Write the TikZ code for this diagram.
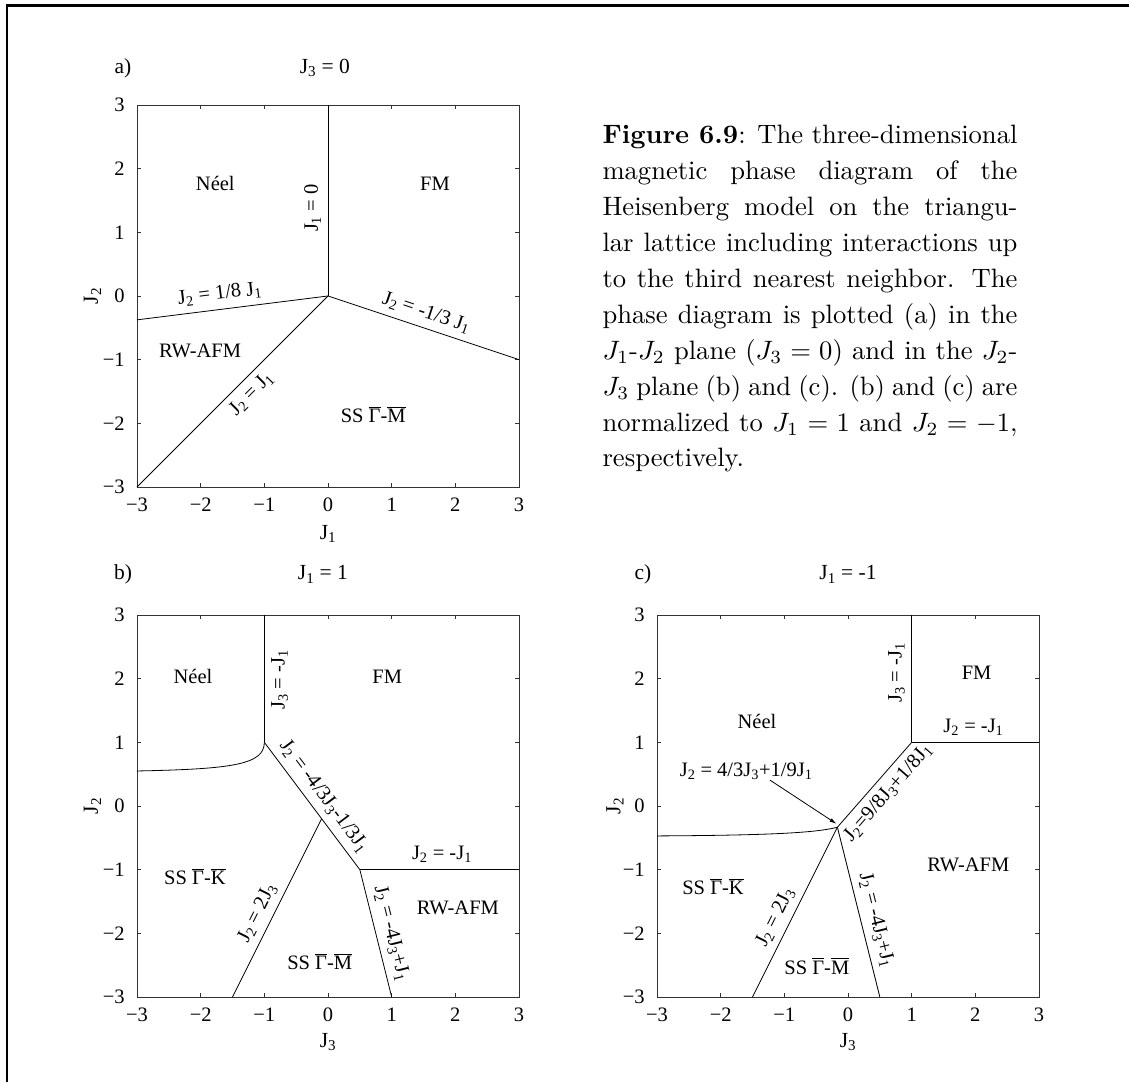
\documentclass[tikz,border=0pt]{standalone}
\usepackage{fontspec}
\newfontfamily\plotfont{Liberation Serif}
\usetikzlibrary{arrows.meta}

\newcommand{\plotsize}{\plotfont\fontsize{20.5}{24}\selectfont}
\newcommand{\Jsub}[1]{J\textsubscript{#1}}
\newcommand{\ovbar}[1]{\leavevmode\vbox{\hrule height 0.8pt\kern 1.8pt\hbox{#1}}}

% Rahmen, Ticks und Zahlen eines Diagramms
\newcommand{\phaseframe}[1]{%
  \draw[frame] (-3,-3) rectangle (3,3);
  \foreach \t/\lab in {-3/−3,-2/−2,-1/−1,0/0,1/1,2/2,3/3} {
    \draw[frame] (\t,-3) -- ++(0,0.07) (\t,3) -- ++(0,-0.07)
                 (-3,\t) -- ++(0.07,0) (3,\t) -- ++(-0.07,0);
    \node[ticklabel, anchor=base] (#1-x\t) at (\t,-3.388) {\lab};
    \node[ticklabel, anchor=east] (#1-y\t) at (-3.19,\t) {\lab};
  }
}

\begin{document}
\begin{tikzpicture}[x=1pt, y=1pt,
        border/.style={line width=2.5pt},
        frame/.style={line width=0.9pt, black!80},
        bound/.style={line width=0.8pt},
        ticklabel/.style={font=\plotsize, inner sep=0pt},
        title/.style={font=\plotfont\fontsize{21.5}{25}\selectfont, inner sep=0pt},
        region/.style={font=\plotsize, inner sep=0pt},
        linelabel/.style={font=\plotsize, inner sep=6.5pt, sloped},
        caption/.style={anchor=north west, inner sep=0pt, scale=2.66, text width=156pt, align=justify, font=\fontsize{10}{13.5}\selectfont}
    ]
    \useasboundingbox (0,0) rectangle (1129,1082);
    \draw[border] (7,0) -- (7,1076.5) -- (1129,1076.5);

    % Bildunterschrift
    \node[caption] (cap) at (602,957.2) {\textbf{Figure 6.9}: The three-dimensional\linebreak
        magnetic phase diagram of the\linebreak
        Heisenberg model on the triangu-\linebreak
        lar lattice including interactions up\linebreak
        to the third nearest neighbor. The\linebreak
        phase diagram is plotted (a) in the\linebreak
        $J_1$-$J_2$ plane ($J_3=0$) and in the $J_2$-\linebreak
        $J_3$ plane (b) and (c). (b) and (c) are\linebreak
        normalized to $J_1=1$ and $J_2=-1$,\linebreak
        respectively.};

    % a) J1-J2-Ebene
    \begin{scope}[shift={(328,786)}, x=63.67pt, y=63.67pt]
        \phaseframe{a}
        \node[title, anchor=base] (a-tag) at (-3.22,3.50) {a)};
        \node[title, anchor=base] (a-title) at (-0.05,3.50) {\Jsub{3} = 0};
        \node[title, anchor=base] (a-xl) at (0,-3.83) {\Jsub{1}};
        \node[title, rotate=90] (a-yl) at (-3.70,0) {\Jsub{2}};

        \coordinate (a-o) at (0,0);
        \coordinate (a-top) at (0,3);
        \coordinate (a-l) at (-3,-0.375);
        \coordinate (a-r) at (3,-1);
        \coordinate (a-bl) at (-3,-3);

        \draw[bound] (a-o) -- (a-top) node[linelabel, pos=0.46, above] {\Jsub{1} = 0};
        \draw[bound] (a-l) -- (a-o) node[linelabel, pos=0.444, above] {\Jsub{2} = 1/8 \Jsub{1}};
        \draw[bound] (a-o) -- (a-r) node[linelabel, pos=0.49, above] {\Jsub{2} = -1/3 \Jsub{1}};
        \draw[bound] (a-bl) -- (a-o) node[linelabel, pos=0.543, below] {\Jsub{2} = \Jsub{1}};

        \node[region] (a-neel) at (-1.77,1.76) {Néel};
        \node[region] (a-fm) at (1.68,1.76) {FM};
        \node[region] (a-rw) at (-2.01,-0.86) {RW-AFM};
        \node[region] (a-ss) at (0.71,-1.87) {SS \ovbar{Γ}-\ovbar{M}};
    \end{scope}

    % b) J1 = 1
    \begin{scope}[shift={(328,276)}, x=63.67pt, y=63.67pt]
        \phaseframe{b}
        \node[title, anchor=base] (b-tag) at (-3.22,3.55) {b)};
        \node[title, anchor=base] (b-title) at (-0.08,3.55) {\Jsub{1} = 1};
        \node[title, anchor=base] (b-xl) at (0,-3.79) {\Jsub{3}};
        \node[title, rotate=90] (b-yl) at (-3.70,0) {\Jsub{2}};

        \coordinate (b-k) at (-1,1);
        \coordinate (b-top) at (-1,3);
        \coordinate (b-m) at (0.5,-1);
        \coordinate (b-r) at (3,-1);
        \coordinate (b-bm) at (1,-3);
        \coordinate (b-j) at (-0.1,-0.2);
        \coordinate (b-bl) at (-1.5,-3);
        \coordinate (b-cl) at (-3,0.55);

        \draw[bound] (b-k) -- (b-top) node[linelabel, pos=0.49, below] {\Jsub{3} = -\Jsub{1}};
        \draw[bound] (b-k) -- (b-m) node[linelabel, pos=0.496, above] {\Jsub{2} = -4/3\Jsub{3}-1/3\Jsub{1}};
        \draw[bound] (b-m) -- (b-r) node[linelabel, pos=0.516, above] {\Jsub{2} = -\Jsub{1}};
        \draw[bound] (b-m) -- (b-bm) node[linelabel, pos=0.529, above] {\Jsub{2} = -4\Jsub{3}+\Jsub{1}};
        \draw[bound] (b-bl) -- (b-j) node[linelabel, pos=0.433, above] {\Jsub{2} = 2\Jsub{3}};
        \draw[bound] (b-cl) .. controls (-1.5,0.58) and (-1.0,0.65) .. (b-k);

        \node[region] (b-neel) at (-2.12,2.03) {Néel};
        \node[region] (b-fm) at (0.93,2.03) {FM};
        \node[region] (b-ssk) at (-2.09,-1.11) {SS \ovbar{Γ}-\ovbar{K}};
        \node[region] (b-rw) at (2.04,-1.60) {RW-AFM};
        \node[region] (b-ssm) at (-0.13,-2.45) {SS \ovbar{Γ}-\ovbar{M}};
    \end{scope}

    % c) J1 = -1
    \begin{scope}[shift={(848,276)}, x=63.67pt, y=63.67pt]
        \phaseframe{c}
        \node[title, anchor=base] (c-tag) at (-3.22,3.55) {c)};
        \node[title, anchor=base] (c-title) at (0,3.55) {\Jsub{1} = -1};
        \node[title, anchor=base] (c-xl) at (0,-3.79) {\Jsub{3}};
        \node[title, rotate=90] (c-yl) at (-3.66,0) {\Jsub{2}};

        \coordinate (c-k) at (1,1);
        \coordinate (c-top) at (1,3);
        \coordinate (c-r) at (3,1);
        \coordinate (c-j) at (-0.1667,-0.3333);
        \coordinate (c-bl) at (-1.5,-3);
        \coordinate (c-bm) at (0.5,-3);
        \coordinate (c-cl) at (-3,-0.47);
        \coordinate (c-at) at (-0.18,-0.28);

        \draw[bound] (c-k) -- (c-top) node[linelabel, pos=0.545, above] {\Jsub{3} = -\Jsub{1}};
        \draw[bound] (c-k) -- (c-r) node[linelabel, pos=0.485, above] {\Jsub{2} = -\Jsub{1}};
        \draw[bound] (c-j) -- (c-k) node[linelabel, pos=0.528, below] {\Jsub{2}=9/8\Jsub{3}+1/8\Jsub{1}};
        \draw[bound] (c-bl) -- (c-j) node[linelabel, pos=0.43, above] {\Jsub{2} = 2\Jsub{3}};
        \draw[bound] (c-j) -- (c-bm) node[linelabel, pos=0.569, above] {\Jsub{2} = -4\Jsub{3}+\Jsub{1}};
        \draw[bound] (c-cl) .. controls (-1.2,-0.46) and (-0.5,-0.42) .. (c-j);

        \node[region] (c-lbl) at (-1.60,0.54) {\Jsub{2} = 4/3\Jsub{3}+1/9\Jsub{1}};
        \draw[bound, -{Latex[length=7pt, width=4pt]}] ([xshift=24pt]c-lbl.south) -- (c-at);

        \node[region] (c-neel) at (-1.43,1.33) {Néel};
        \node[region] (c-fm) at (2.02,2.10) {FM};
        \node[region] (c-rw) at (1.89,-0.93) {RW-AFM};
        \node[region] (c-ssk) at (-2.12,-1.27) {SS \ovbar{Γ}-\ovbar{K}};
        \node[region] (c-ssm) at (-0.49,-2.52) {SS \ovbar{Γ}-\ovbar{M}};
    \end{scope}
\end{tikzpicture}
\end{document}
